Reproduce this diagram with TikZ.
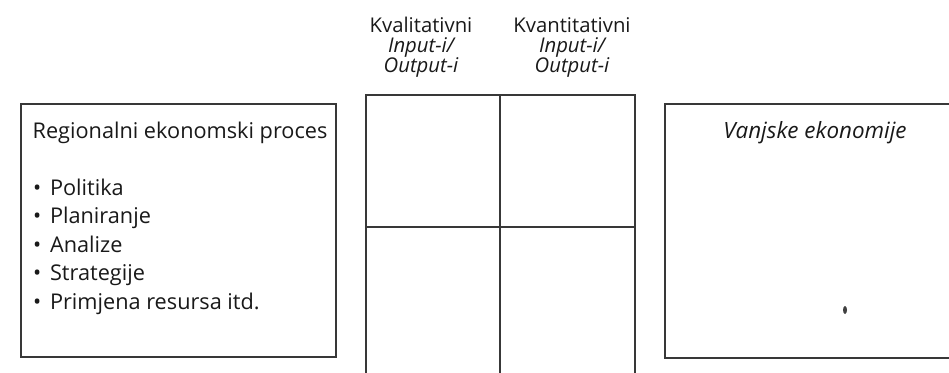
\documentclass[tikz,border=0pt]{standalone}
\usepackage{fontspec}
\setmainfont{Open Sans}
\begin{document}
\begin{tikzpicture}[x=1pt,y=-1pt,
  frame/.style={draw=black!78, line width=1.5pt, rectangle, inner sep=0pt, anchor=north west},
  bodytext/.style={font=\fontsize{21.7}{26}\selectfont, inner sep=0pt, text=black!90},
  headtext/.style={font=\fontsize{20.3}{22}\selectfont, inner sep=0pt, text=black!90, anchor=base},
  bullet/.style={bodytext, anchor=base west}]
\useasboundingbox (0,0) rectangle (949,372);
% left box
\node[frame, minimum width=315pt, minimum height=253pt] (left) at (20,103) {};
\node[bodytext, anchor=base] (ltitle) at (180,138) {Regionalni ekonomski proces};
\node[bullet] (b1) at (33,195) {\textbullet\hspace{0.4em}Politika};
\node[bullet] (b2) at (33,223.5) {\textbullet\hspace{0.4em}Planiranje};
\node[bullet] (b3) at (33,252) {\textbullet\hspace{0.4em}Analize};
\node[bullet] (b4) at (33,280.5) {\textbullet\hspace{0.4em}Strategije};
\node[bullet] (b5) at (33,309) {\textbullet\hspace{0.4em}Primjena resursa itd.};
% grid
\node[frame, minimum width=134pt, minimum height=132pt] (c11) at (365,94) {};
\node[frame, minimum width=135pt, minimum height=132pt] (c12) at (499,94) {};
\node[frame, minimum width=134pt, minimum height=160pt] (c21) at (365,226) {};
\node[frame, minimum width=135pt, minimum height=160pt] (c22) at (499,226) {};
% headers
\node[headtext] (h1a) at (421,32) {Kvalitativni};
\node[headtext] (h1b) at (421,52) {\itshape Input-i/};
\node[headtext] (h1c) at (421,72) {\itshape Output-i};
\node[headtext] (h2a) at (572,32) {Kvantitativni};
\node[headtext] (h2b) at (572,52) {\itshape Input-i/};
\node[headtext] (h2c) at (572,72) {\itshape Output-i};
% right box
\node[frame, minimum width=300pt, minimum height=254pt] (right) at (664,103) {};
\node[bodytext, font=\fontsize{22.4}{26}\selectfont\itshape, anchor=base] (rtitle) at (815,138) {Vanjske ekonomije};
\fill[black!75] (845,310) ellipse (2pt and 4pt);
\end{tikzpicture}
\end{document}
